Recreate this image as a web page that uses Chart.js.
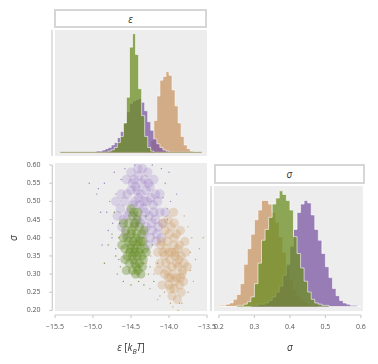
<!DOCTYPE html>
<html>
<head>
<meta charset="utf-8">
<script src="https://cdn.jsdelivr.net/npm/chart.js@4.4.1/dist/chart.umd.min.js"></script>
<style>
  html, body { margin:0; padding:0; background:#fff; }
  #wrap { position:relative; width:378px; height:364px; overflow:hidden; font-family:"Open Sans", sans-serif; }
  canvas { position:absolute; left:0; top:0; }
  .box { position:absolute; box-sizing:border-box; border:2px solid #d6d6d6; background:#fff;
         display:flex; align-items:center; justify-content:center; font-style:italic; font-size:10px; color:#333; }
  .lbl { position:absolute; font-size:10px; color:#333; white-space:nowrap; transform:translate(-50%,-50%); }
  .lbl i { font-style:italic; }
</style>
</head>
<body>
<div id="wrap">
  <canvas id="cTop" width="378" height="364"></canvas>
  <canvas id="cScat" width="378" height="364"></canvas>
  <canvas id="cSig" width="378" height="364"></canvas>
  <div class="box" style="left:54px;top:9px;width:153px;height:19px;">ε</div>
  <div class="box" style="left:214px;top:164px;width:151px;height:20px;">σ</div>
  <div class="lbl" style="left:131px;top:348px;"><i>ε</i> [<i>k<sub style="font-size:7px">B</sub>T</i>]</div>
  <div class="lbl" style="left:290px;top:347px;"><i>σ</i></div>
  <div class="lbl" style="left:13px;top:238px;transform:translate(-50%,-50%) rotate(-90deg);"><i>σ</i></div>
</div>
<script>
// ---------- DATA ----------
// epsilon histogram: 45 bins, starting at -15.40, width 0.04
const epsBinStart = -15.40;
const epsBinWidth = 0.04;
const epsGreen  = [0,0,0,0,0,0,0,0,0,0,0,0,0,0,0,
  0.01,0.02,0.04,0.08,0.13,0.24,0.45,0.86,0.97,0.80,0.52,0.30,0.13,0.04,0.01,
  0,0,0,0,0,0,0,0,0,0,0,0,0,0,0];
const epsPurple = [0,0,0,0,0,0,0,0,0,0,0,
  0.01,0.01,0.02,0.03,0.04,0.06,0.08,0.12,0.17,0.24,0.33,0.40,0.42,0.43,0.44,0.41,0.34,0.25,0.18,0.11,0.07,0.04,0.02,0.01,
  0,0,0,0,0,0,0,0,0,0];
const epsOrange = [0,0,0,0,0,0,0,0,0,0,0,0,0,0,0,0,0,0,0,0,0,0,0,0,0,0,0,
  0.01,0.03,0.10,0.26,0.46,0.59,0.62,0.66,0.63,0.51,0.38,0.24,0.13,0.06,0.03,0.01,
  0,0];
// sigma histogram: 40 bins, starting at 0.20, width 0.01
const sigBinStart = 0.20;
const sigBinWidth = 0.01;
const sigOrange = [0.01,0.01,0.02,0.03,0.06,0.10,0.19,0.35,0.48,0.60,0.72,0.80,0.88,0.88,0.85,0.78,0.70,0.58,0.45,0.33,
  0.22,0.14,0.09,0.06,0.04,0.02,0.01,0.01,0,0,0,0,0,0,0,0,0,0,0,0];
const sigGreen  = [0,0,0,0,0,0.01,0.01,0.02,0.04,0.08,0.19,0.36,0.55,0.64,0.74,0.85,0.90,0.96,0.93,0.88,
  0.80,0.58,0.44,0.32,0.21,0.12,0.06,0.03,0.02,0.01,0.01,0,0,0,0,0,0,0,0,0];
const sigPurple = [0,0,0,0,0,0,0,0,0,0.01,0.01,0.02,0.02,0.03,0.05,0.08,0.12,0.17,0.26,0.35,
  0.50,0.64,0.78,0.85,0.88,0.86,0.76,0.64,0.55,0.44,0.33,0.24,0.15,0.09,0.05,0.03,0.02,0.01,0.01,0];
// scatter samples [epsilon, sigma]
const scatPurple = [[-14.55,0.52],[-14.48,0.55],[-14.40,0.57],[-14.32,0.56],[-14.25,0.54],[-14.45,0.50],[-14.37,0.52],
  [-14.29,0.50],[-14.21,0.49],[-14.52,0.47],[-14.42,0.46],[-14.34,0.48],[-14.26,0.46],[-14.18,0.45],[-14.60,0.45],
  [-14.30,0.43],[-14.22,0.42],[-14.14,0.43],[-14.38,0.44],[-14.58,0.50],[-14.64,0.48],[-14.50,0.58],[-14.35,0.59],
  [-14.28,0.58],[-14.18,0.52],[-14.12,0.47],[-14.08,0.44],[-14.25,0.40],[-14.33,0.41],[-14.42,0.53],[-14.62,0.43],
  [-14.68,0.46],[-14.57,0.41],[-14.20,0.56],[-14.15,0.50],[-14.46,0.56],[-14.30,0.53],[-14.39,0.49],[-14.24,0.51],
  [-14.10,0.40],[-14.17,0.39],[-14.28,0.38],
  [-14.50,0.53],[-14.44,0.54],[-14.36,0.55],[-14.27,0.55],[-14.40,0.51],[-14.33,0.50],[-14.47,0.49],[-14.20,0.47],
  [-14.23,0.44],[-14.35,0.45],[-14.45,0.44],[-14.55,0.46],[-14.63,0.52],[-14.56,0.56],[-14.41,0.59],[-14.31,0.47],
  [-14.16,0.41],[-14.12,0.52],[-14.05,0.47],[-14.70,0.50]];
const scatPurpleSparse = [[-14.85,0.55],[-14.78,0.50],[-14.72,0.58],[-14.80,0.42],[-14.70,0.37],[-14.63,0.56],[-14.90,0.47],
  [-14.05,0.55],[-13.98,0.50],[-14.00,0.58],[-14.10,0.59],[-14.45,0.60],[-14.95,0.52],[-14.75,0.40],[-14.66,0.34],
  [-14.15,0.33],[-14.88,0.38],[-13.90,0.52],[-15.05,0.55],[-14.70,0.52],[-14.93,0.535],[-14.58,0.59],[-14.22,0.60],
  [-14.02,0.45],[-14.74,0.44],[-14.82,0.47],[-14.08,0.51]];
const scatOrange = [[-14.05,0.42],[-13.97,0.43],[-13.90,0.41],[-14.10,0.39],[-14.02,0.39],[-13.94,0.38],[-13.86,0.38],
  [-14.08,0.36],[-14.00,0.36],[-13.92,0.35],[-13.84,0.35],[-14.12,0.33],[-14.04,0.33],[-13.96,0.32],[-13.88,0.32],
  [-13.80,0.33],[-14.06,0.30],[-13.98,0.29],[-13.90,0.29],[-13.83,0.30],[-14.00,0.27],[-13.93,0.26],[-13.86,0.27],
  [-13.96,0.24],[-13.89,0.23],[-14.15,0.36],[-13.78,0.36],[-14.01,0.45],[-13.94,0.47],[-14.08,0.44],[-13.85,0.42],
  [-13.92,0.36],[-13.99,0.34],[-13.95,0.30],[-14.03,0.31],[-13.87,0.34],[-13.81,0.28],[-14.09,0.27],
  [-13.93,0.40],[-14.00,0.41],[-13.88,0.37],[-13.96,0.36],[-14.06,0.35],[-13.90,0.33],[-13.82,0.31],[-14.01,0.29],
  [-13.92,0.28],[-13.98,0.26],[-13.84,0.25],[-14.14,0.31],[-14.11,0.38],[-13.76,0.32],[-13.79,0.39],[-13.93,0.44],
  [-14.04,0.37],[-13.85,0.29]];
const scatOrangeSparse = [[-14.20,0.30],[-14.25,0.26],[-13.70,0.40],[-13.65,0.34],[-13.75,0.25],[-13.95,0.21],[-13.88,0.20],
  [-14.15,0.23],[-13.72,0.31],[-14.30,0.33],[-13.80,0.46],[-14.02,0.48],[-13.60,0.37],[-13.55,0.40],[-14.18,0.45],
  [-13.86,0.22],[-13.98,0.22],[-14.20,0.40],[-13.68,0.28],[-13.75,0.43],[-14.12,0.24],[-13.72,0.36],[-14.24,0.35],
  [-13.83,0.22],[-14.06,0.25]];
const scatGreen = [[-14.48,0.46],[-14.42,0.45],[-14.53,0.44],[-14.46,0.43],[-14.39,0.43],[-14.57,0.42],[-14.50,0.41],
  [-14.43,0.41],[-14.36,0.41],[-14.60,0.40],[-14.53,0.39],[-14.47,0.39],[-14.40,0.39],[-14.34,0.39],[-14.58,0.37],
  [-14.51,0.37],[-14.45,0.37],[-14.38,0.37],[-14.32,0.37],[-14.55,0.35],[-14.48,0.35],[-14.42,0.35],[-14.36,0.35],
  [-14.52,0.33],[-14.45,0.33],[-14.39,0.33],[-14.34,0.34],[-14.48,0.31],[-14.41,0.31],[-14.44,0.30],[-14.50,0.48],
  [-14.62,0.38],[-14.30,0.36],[-14.56,0.31],[-14.37,0.30],
  [-14.45,0.44],[-14.49,0.42],[-14.44,0.40],[-14.50,0.38],[-14.42,0.38],[-14.46,0.36],[-14.40,0.36],[-14.47,0.34],
  [-14.43,0.32],[-14.55,0.40],[-14.37,0.39],[-14.52,0.36],[-14.35,0.32],[-14.58,0.34],[-14.46,0.47],[-14.33,0.42],
  [-14.41,0.47],[-14.60,0.44]];
const scatGreenSparse = [[-14.70,0.35],[-14.75,0.41],[-14.68,0.30],[-14.25,0.32],[-14.22,0.38],[-14.60,0.28],[-14.33,0.27],
  [-14.80,0.38],[-14.65,0.44],[-14.28,0.43],[-14.50,0.27],[-14.85,0.33],[-14.20,0.28],[-14.40,0.28],[-14.72,0.47],
  [-14.64,0.32],[-14.27,0.30],[-14.66,0.40],[-14.30,0.46]];
// tick labels
const epsTicks = [-15.5,-15.0,-14.5,-14.0,-13.5];
const sigTicksX = [0.2,0.3,0.4,0.5,0.6];
const sigTicksY = [0.20,0.25,0.30,0.35,0.40,0.45,0.50,0.55,0.60];

// ---------- helpers ----------
function histPoints(start, width, counts) {
  const pts = [{x:start, y:0}];
  counts.forEach((c,i) => pts.push({x:start + i*width, y:c}));
  pts.push({x:start + counts.length*width, y:0});
  return pts;
}
const toPts = arr => arr.map(p => ({x:p[0], y:p[1]}));
const fmtMinus = v => (v < 0 ? '\u2212' : '') + Math.abs(v).toFixed(1);
const setTicks = vals => (s => { s.ticks = vals.map(v => ({value:v})); });

const COL = {
  orange: 'rgba(200,150,100,0.75)',
  purple: 'rgba(118,80,160,0.72)',
  green:  'rgba(107,142,35,0.75)',
  edge:   'rgba(255,255,255,0.6)'
};
const SPINE = '#cdcdcd';
const TICKFONT = {family:'"Open Sans", sans-serif', size:7};

const decor = {
  id: 'decor',
  beforeDraw(chart, args, o) {
    const {ctx, chartArea:a} = chart;
    ctx.save();
    ctx.fillStyle = '#ededed';
    ctx.fillRect(a.left, a.top, a.right - a.left, a.bottom - a.top);
    ctx.restore();
  },
  afterDraw(chart, args, o) {
    const {ctx, chartArea:a} = chart;
    ctx.save();
    ctx.strokeStyle = SPINE; ctx.lineWidth = 1.2;
    if (o.left) {
      const x = a.left - o.left.offset;
      let y0 = a.top, y1 = a.bottom;
      if (o.left.ticks) { const s = chart.scales.y; y0 = s.getPixelForValue(o.left.ticks[o.left.ticks.length-1]); y1 = s.getPixelForValue(o.left.ticks[0]); }
      ctx.beginPath(); ctx.moveTo(x, y0); ctx.lineTo(x, y1); ctx.stroke();
      if (o.left.ticks) {
        const s = chart.scales.y;
        o.left.ticks.forEach(v => { const y = s.getPixelForValue(v); ctx.beginPath(); ctx.moveTo(x - 3, y); ctx.lineTo(x, y); ctx.stroke(); });
      }
    }
    if (o.bottom) {
      const s = chart.scales.x;
      const y = a.bottom + o.bottom.offset;
      const t = o.bottom.ticks;
      ctx.beginPath(); ctx.moveTo(s.getPixelForValue(t[0]), y); ctx.lineTo(s.getPixelForValue(t[t.length-1]), y); ctx.stroke();
      t.forEach(v => { const x = s.getPixelForValue(v); ctx.beginPath(); ctx.moveTo(x, y); ctx.lineTo(x, y + 3); ctx.stroke(); });
    }
    ctx.restore();
  }
};

function histDS(pts, color, order) {
  return {data:pts, stepped:'before', fill:'origin', backgroundColor:color, borderColor:COL.edge,
          borderWidth:1, pointRadius:0, order:order, tension:0};
}

const common = {responsive:false, animation:false, devicePixelRatio:1, events:[],
  plugins:{legend:{display:false}, tooltip:{enabled:false}}};

// ---------- top: epsilon histogram ----------
new Chart(document.getElementById('cTop'), {
  type:'line',
  data:{datasets:[
    {data:[{x:epsBinStart - 0.03, y:0},{x:epsBinStart + epsGreen.length*epsBinWidth + 0.03, y:0}],
     borderColor:'rgba(160,150,105,0.9)', borderWidth:1, pointRadius:0, fill:false, order:0},
    histDS(histPoints(epsBinStart, epsBinWidth, epsGreen), COL.green, 1),
    histDS(histPoints(epsBinStart, epsBinWidth, epsPurple), COL.purple, 2),
    histDS(histPoints(epsBinStart, epsBinWidth, epsOrange), COL.orange, 3)
  ]},
  options:Object.assign({}, common, {
    layout:{padding:{left:55, right:171, top:30, bottom:208}},
    scales:{
      x:{type:'linear', min:-15.5, max:-13.5, display:false},
      y:{type:'linear', min:-0.03, max:1.0, display:false}
    },
    plugins:Object.assign({}, common.plugins, {decor:{left:{offset:3}}})
  }),
  plugins:[decor]
});

// ---------- scatter ----------
function scatDS(arr, color, r, order) {
  return {data:toPts(arr), backgroundColor:color, borderWidth:0, pointRadius:r, order:order};
}
new Chart(document.getElementById('cScat'), {
  type:'scatter',
  data:{datasets:[
    scatDS(scatGreen, 'rgba(100,140,35,0.38)', 4.6, 1),
    scatDS(scatGreenSparse, 'rgba(100,140,35,0.85)', 0.7, 2),
    scatDS(scatOrange, 'rgba(205,155,100,0.30)', 4.6, 3),
    scatDS(scatOrangeSparse, 'rgba(200,150,100,0.85)', 0.7, 4),
    scatDS(scatPurple, 'rgba(140,105,190,0.22)', 4.8, 5),
    scatDS(scatPurpleSparse, 'rgba(140,110,185,0.85)', 0.7, 6)
  ]},
  options:Object.assign({}, common, {
    layout:{padding:{left:0, right:171, top:163, bottom:0}},
    scales:{
      x:{type:'linear', position:'bottom', min:-15.5, max:-13.5, afterBuildTicks:setTicks(epsTicks),
         afterFit:s => { s.height = 53; },
         grid:{display:false, drawTicks:false}, border:{display:false},
         ticks:{autoSkip:false, maxRotation:0, padding:12, color:'#555', font:TICKFONT, callback:v => fmtMinus(v)}},
      y:{type:'linear', position:'left', min:0.1986, max:0.6055, afterBuildTicks:setTicks(sigTicksY),
         afterFit:s => { s.width = 55; },
         grid:{display:false, drawTicks:false}, border:{display:false},
         ticks:{autoSkip:false, padding:14.5, color:'#555', font:TICKFONT, callback:v => v.toFixed(2)}}
    },
    plugins:Object.assign({}, common.plugins, {decor:{left:{offset:2.7, ticks:sigTicksY}, bottom:{offset:4, ticks:epsTicks}}})
  }),
  plugins:[decor]
});

// ---------- right: sigma histogram ----------
new Chart(document.getElementById('cSig'), {
  type:'line',
  data:{datasets:[
    histDS(histPoints(sigBinStart, sigBinWidth, sigGreen), COL.green, 1),
    histDS(histPoints(sigBinStart, sigBinWidth, sigPurple), COL.purple, 2),
    histDS(histPoints(sigBinStart, sigBinWidth, sigOrange), COL.orange, 3)
  ]},
  options:Object.assign({}, common, {
    layout:{padding:{left:214, right:13, top:186, bottom:0}},
    scales:{
      x:{type:'linear', position:'bottom', min:0.1861, max:0.6056, afterBuildTicks:setTicks(sigTicksX),
         afterFit:s => { s.height = 53; },
         grid:{display:false, drawTicks:false}, border:{display:false},
         ticks:{autoSkip:false, maxRotation:0, padding:12, color:'#555', font:TICKFONT, callback:v => v.toFixed(1)}},
      y:{type:'linear', min:-0.037, max:1.0, display:false}
    },
    plugins:Object.assign({}, common.plugins, {decor:{left:{offset:3}, bottom:{offset:4, ticks:sigTicksX}}})
  }),
  plugins:[decor]
});
</script>
</body>
</html>
